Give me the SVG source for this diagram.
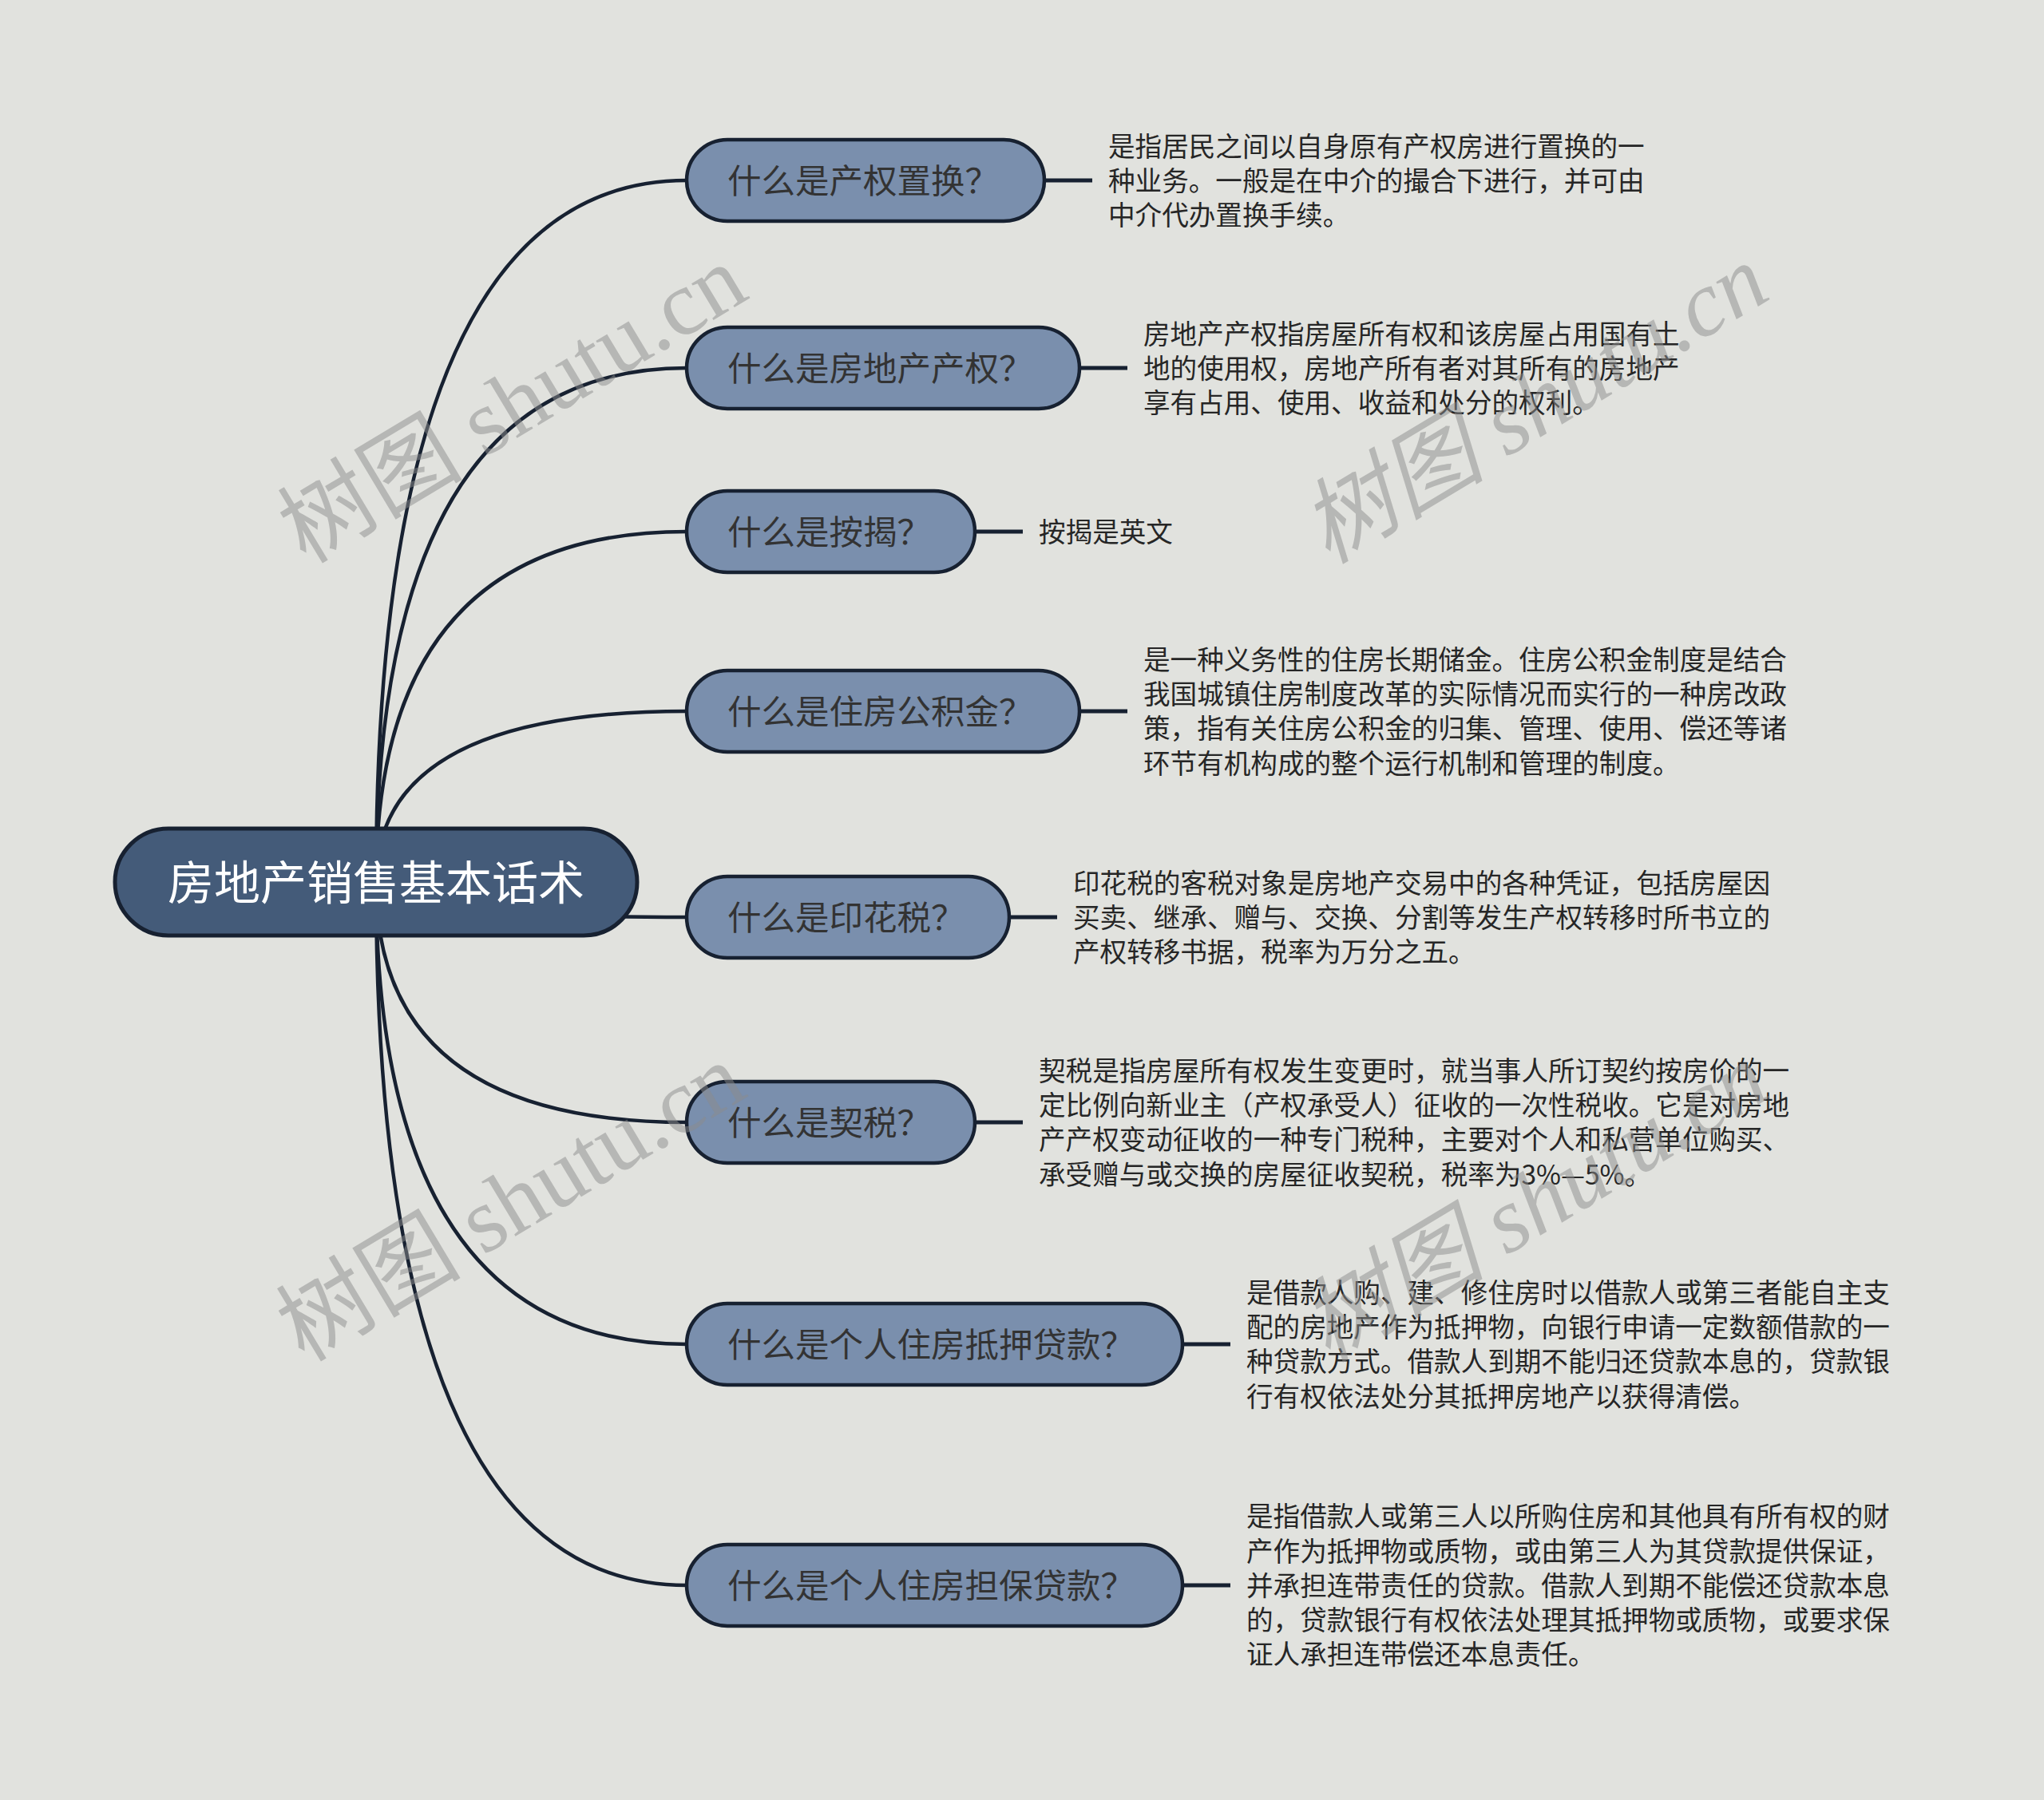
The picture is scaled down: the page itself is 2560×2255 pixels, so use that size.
<svg xmlns="http://www.w3.org/2000/svg" width="2560" height="2255" viewBox="0 0 2560 2255">
<style>
.bg{fill:#e1e2de}
.conn{fill:none;stroke:#172131;stroke-width:4.5;stroke-linecap:round}
.stub{fill:none;stroke:#172131;stroke-width:5}
.root rect{fill:#445b79;stroke:#172131;stroke-width:5}
.root text{fill:#ffffff;font-family:"Noto Sans CJK SC","Noto Sans",sans-serif;font-size:58px}
.topic rect{fill:#7a8fad;stroke:#172131;stroke-width:4.5}
.topic text{fill:#333333;font-family:"Noto Sans CJK SC","Noto Sans",sans-serif;font-size:42.5px}
.desc text{fill:#262626;font-family:"Noto Sans CJK SC","Noto Sans",sans-serif;font-size:33.6px}
.wm{fill:#8c8c8c;fill-opacity:0.5;font-family:"Liberation Serif","Noto Sans CJK SC",serif;font-size:116px}
</style>
<rect class="bg" x="0" y="0" width="2560" height="2255"/>
<g id="connectors">
<path class="conn" d="M471,1105 Q471,226 860,226"/>
<path class="conn" d="M471,1105 Q471,461 860,461"/>
<path class="conn" d="M471,1105 Q471,666 860,666"/>
<path class="conn" d="M471,1105 Q471,891 860,891"/>
<path class="conn" d="M471,1105 Q471,1149 860,1149"/>
<path class="conn" d="M471,1105 Q471,1406 860,1406"/>
<path class="conn" d="M471,1105 Q471,1684 860,1684"/>
<path class="conn" d="M471,1105 Q471,1986 860,1986"/>
<line class="stub" x1="1308" y1="226" x2="1368" y2="226"/>
<line class="stub" x1="1352" y1="461" x2="1412" y2="461"/>
<line class="stub" x1="1221" y1="666" x2="1281" y2="666"/>
<line class="stub" x1="1352" y1="891" x2="1412" y2="891"/>
<line class="stub" x1="1264" y1="1149" x2="1324" y2="1149"/>
<line class="stub" x1="1221" y1="1406" x2="1281" y2="1406"/>
<line class="stub" x1="1481" y1="1684" x2="1541" y2="1684"/>
<line class="stub" x1="1481" y1="1986" x2="1541" y2="1986"/>
</g>
<g id="root" class="root">
<rect x="144" y="1038" width="654" height="134" rx="67"/>
<text x="471" y="1127" text-anchor="middle">房地产销售基本话术</text>
</g>
<g id="n1" class="topic"><rect x="860" y="175" width="448" height="102" rx="51"/><text x="911" y="242">什么是产权置换？</text></g>
<g id="n2" class="topic"><rect x="860" y="410" width="492" height="102" rx="51"/><text x="911" y="477">什么是房地产产权？</text></g>
<g id="n3" class="topic"><rect x="860" y="615" width="361" height="102" rx="51"/><text x="911" y="682">什么是按揭？</text></g>
<g id="n4" class="topic"><rect x="860" y="840" width="492" height="102" rx="51"/><text x="911" y="907">什么是住房公积金？</text></g>
<g id="n5" class="topic"><rect x="860" y="1098" width="404" height="102" rx="51"/><text x="911" y="1165">什么是印花税？</text></g>
<g id="n6" class="topic"><rect x="860" y="1355" width="361" height="102" rx="51"/><text x="911" y="1422">什么是契税？</text></g>
<g id="n7" class="topic"><rect x="860" y="1633" width="621" height="102" rx="51"/><text x="911" y="1700">什么是个人住房抵押贷款？</text></g>
<g id="n8" class="topic"><rect x="860" y="1935" width="621" height="102" rx="51"/><text x="911" y="2002">什么是个人住房担保贷款？</text></g>
<g id="d1" class="desc"><text x="1388" y="195.6">是指居民之间以自身原有产权房进行置换的一</text><text x="1388" y="238.8">种业务。一般是在中介的撮合下进行，并可由</text><text x="1388" y="282">中介代办置换手续。</text></g>
<g id="d2" class="desc"><text x="1432" y="430.6">房地产产权指房屋所有权和该房屋占用国有土</text><text x="1432" y="473.8">地的使用权，房地产所有者对其所有的房地产</text><text x="1432" y="517">享有占用、使用、收益和处分的权利。</text></g>
<g id="d3" class="desc"><text x="1301" y="678.8">按揭是英文</text></g>
<g id="d4" class="desc"><text x="1432" y="839">是一种义务性的住房长期储金。住房公积金制度是结合</text><text x="1432" y="882.2">我国城镇住房制度改革的实际情况而实行的一种房改政</text><text x="1432" y="925.4">策，指有关住房公积金的归集、管理、使用、偿还等诸</text><text x="1432" y="968.6">环节有机构成的整个运行机制和管理的制度。</text></g>
<g id="d5" class="desc"><text x="1344" y="1118.6">印花税的客税对象是房地产交易中的各种凭证，包括房屋因</text><text x="1344" y="1161.8">买卖、继承、赠与、交换、分割等发生产权转移时所书立的</text><text x="1344" y="1205">产权转移书据，税率为万分之五。</text></g>
<g id="d6" class="desc"><text x="1301" y="1354">契税是指房屋所有权发生变更时，就当事人所订契约按房价的一</text><text x="1301" y="1397.2">定比例向新业主（产权承受人）征收的一次性税收。它是对房地</text><text x="1301" y="1440.4">产产权变动征收的一种专门税种，主要对个人和私营单位购买、</text><text x="1301" y="1483.6">承受赠与或交换的房屋征收契税，税率为3%—5%。</text></g>
<g id="d7" class="desc"><text x="1561" y="1632">是借款人购、建、修住房时以借款人或第三者能自主支</text><text x="1561" y="1675.2">配的房地产作为抵押物，向银行申请一定数额借款的一</text><text x="1561" y="1718.4">种贷款方式。借款人到期不能归还贷款本息的，贷款银</text><text x="1561" y="1761.6">行有权依法处分其抵押房地产以获得清偿。</text></g>
<g id="d8" class="desc"><text x="1561" y="1912.4">是指借款人或第三人以所购住房和其他具有所有权的财</text><text x="1561" y="1955.6">产作为抵押物或质物，或由第三人为其贷款提供保证，</text><text x="1561" y="1998.8">并承担连带责任的贷款。借款人到期不能偿还贷款本息</text><text x="1561" y="2042">的，贷款银行有权依法处理其抵押物或质物，或要求保</text><text x="1561" y="2085.2">证人承担连带偿还本息责任。</text></g>
<g id="watermarks">
<text class="wm" text-anchor="middle" transform="translate(662,540) rotate(-31)">树图 shutu.cn</text>
<text class="wm" text-anchor="middle" font-style="italic" transform="translate(1942,540) rotate(-31)">树图 shutu.cn</text>
<text class="wm" text-anchor="middle" transform="translate(660,1540) rotate(-31)">树图 shutu.cn</text>
<text class="wm" text-anchor="middle" font-style="italic" transform="translate(1942,1540) rotate(-31)">树图 shutu.cn</text>
</g>
</svg>
